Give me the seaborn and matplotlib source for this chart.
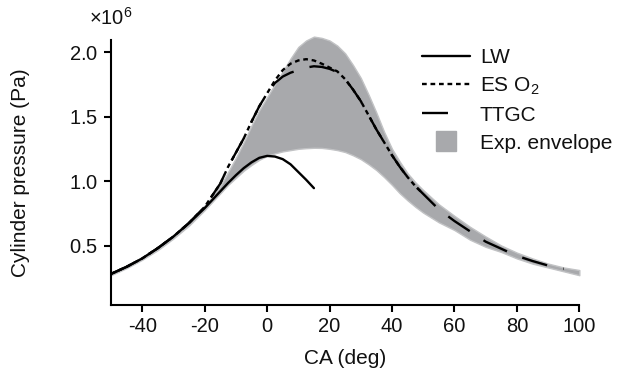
import numpy as np
import pandas as pd
import matplotlib
matplotlib.use("Agg")
import matplotlib.pyplot as plt
import seaborn as sns
from matplotlib.lines import Line2D
from matplotlib.ticker import ScalarFormatter

# Crank angle grid (deg)
ca = [-50, -45, -40, -35, -30, -25, -20,
      -17.5, -15, -12.5, -10, -7.5, -5, -2.5, 0,
      2.5, 5, 7.5, 10, 12.5, 15, 17.5, 20, 22.5, 25,
      27.5, 30, 32.5, 35, 37.5, 40, 42.5, 45, 47.5, 50,
      55, 60, 65, 70, 75, 80, 85, 90, 95, 100]

# Experimental envelope (x1e6 Pa)
env_lo = [0.27, 0.325, 0.39, 0.465, 0.555, 0.655, 0.775,
          0.84, 0.905, 0.97, 1.025, 1.08, 1.125, 1.165, 1.195,
          1.215, 1.23, 1.24, 1.25, 1.255, 1.258, 1.257, 1.25, 1.24, 1.225,
          1.20, 1.17, 1.13, 1.085, 1.03, 0.97, 0.905, 0.85, 0.80, 0.755,
          0.68, 0.62, 0.545, 0.49, 0.45, 0.40, 0.36, 0.33, 0.30, 0.27]
env_hi = [0.29, 0.345, 0.41, 0.49, 0.58, 0.69, 0.81,
          0.88, 0.96, 1.07, 1.18, 1.30, 1.43, 1.55, 1.65,
          1.75, 1.85, 1.95, 2.04, 2.09, 2.12, 2.11, 2.09, 2.05, 1.99,
          1.90, 1.80, 1.67, 1.53, 1.38, 1.25, 1.15, 1.06, 0.99, 0.93,
          0.82, 0.73, 0.645, 0.57, 0.50, 0.445, 0.40, 0.36, 0.33, 0.31]

# Simulations (x1e6 Pa)
ca_lw = [-50, -45, -40, -35, -30, -25, -20,
         -17.5, -15, -12.5, -10, -7.5, -5, -2.5, 0,
         2.5, 5, 7.5, 10, 12.5, 15]
p_lw = [0.28, 0.335, 0.40, 0.48, 0.57, 0.675, 0.79,
        0.855, 0.92, 0.985, 1.045, 1.10, 1.145, 1.18, 1.195,
        1.19, 1.17, 1.13, 1.07, 1.01, 0.945]

ca_es = [-50, -45, -40, -35, -30, -25, -20,
         -17.5, -15, -12.5, -10, -7.5, -5, -2.5, 0,
         2.5, 5, 7.5, 10, 12.5, 15, 17.5, 20, 22.5, 25,
         27.5, 30, 32.5, 35, 37.5, 40, 42.5, 45, 47.5, 50]
p_es = [0.28, 0.335, 0.40, 0.48, 0.57, 0.675, 0.80,
        0.89, 0.98, 1.11, 1.22, 1.33, 1.46, 1.58, 1.68,
        1.78, 1.86, 1.91, 1.935, 1.945, 1.935, 1.91, 1.88, 1.85, 1.79,
        1.71, 1.62, 1.51, 1.40, 1.30, 1.20, 1.11, 1.03, 0.96, 0.90]

ca_ttgc = [-50, -45, -40, -35, -30, -25, -20,
           -17.5, -15, -12.5, -10, -7.5, -5, -2.5, 0,
           2.5, 5, 7.5, 10, 12.5, 15, 17.5, 20, 22.5, 25,
           27.5, 30, 32.5, 35, 37.5, 40, 42.5, 45, 47.5, 50,
           55, 60, 65, 70, 75, 80, 85, 90, 95]
p_ttgc = [0.28, 0.335, 0.40, 0.48, 0.57, 0.675, 0.80,
          0.89, 0.98, 1.11, 1.22, 1.33, 1.46, 1.58, 1.68,
          1.76, 1.81, 1.84, 1.86, 1.88, 1.89, 1.885, 1.87, 1.845, 1.79,
          1.71, 1.62, 1.51, 1.40, 1.30, 1.20, 1.11, 1.03, 0.96, 0.90,
          0.78, 0.69, 0.61, 0.53, 0.475, 0.42, 0.38, 0.345, 0.32]

labels = ["LW", "ES O$_2$", "TTGC"]

df = pd.concat([
    pd.DataFrame({"CA": ca_lw, "p": np.array(p_lw) * 1e6, "case": labels[0]}),
    pd.DataFrame({"CA": ca_es, "p": np.array(p_es) * 1e6, "case": labels[1]}),
    pd.DataFrame({"CA": ca_ttgc, "p": np.array(p_ttgc) * 1e6, "case": labels[2]}),
])

sns.set_style("ticks")
plt.rcParams["font.family"] = ["Liberation Sans", "DejaVu Sans"]
plt.rcParams["axes.unicode_minus"] = False
plt.rcParams["text.color"] = "#111111"
plt.rcParams["axes.labelcolor"] = "#111111"
plt.rcParams["xtick.labelcolor"] = "#111111"
plt.rcParams["ytick.labelcolor"] = "#111111"
plt.rcParams["mathtext.fontset"] = "custom"
plt.rcParams["mathtext.rm"] = "Liberation Sans"
plt.rcParams["mathtext.it"] = "Liberation Sans:italic"

fig = plt.figure(figsize=(6.27, 3.83), dpi=100)
ax = fig.add_axes([0.177, 0.204, 0.747, 0.692])

env_col = "#a8a9ac"
ax.fill_between(ca, np.array(env_lo) * 1e6, np.array(env_hi) * 1e6,
                color=env_col, edgecolor="#c2c3c5", linewidth=1.0,
                clip_on=False, zorder=1)

dashes = {labels[0]: "", labels[1]: (2.0, 1.6), labels[2]: (11, 7)}
sns.lineplot(data=df, x="CA", y="p", hue="case", style="case",
             palette={l: "black" for l in labels}, dashes=dashes,
             linewidth=1.7, legend=False, ax=ax, zorder=3, sort=False)

ax.set_xlim(-50, 100)
ax.set_ylim(0.04e6, 2.095e6)
ax.set_xticks([-40, -20, 0, 20, 40, 60, 80, 100])
ax.set_yticks([0.5e6, 1.0e6, 1.5e6, 2.0e6])
fmt = ScalarFormatter(useMathText=True)
fmt.set_powerlimits((6, 6))
ax.yaxis.set_major_formatter(fmt)
ax.yaxis.get_offset_text().set_visible(False)
ax.text(-0.047, 1.055, r"$\times$10$^6$", transform=ax.transAxes,
        fontsize=14.5, ha="left", va="baseline")

ax.set_xlabel("CA (deg)", fontsize=15)
ax.set_ylabel("Cylinder pressure (Pa)", fontsize=15)
ax.xaxis.set_label_coords(0.5, -0.165)
ax.yaxis.set_label_coords(-0.173, 0.5)
ax.tick_params(axis="both", length=5, width=1.5, labelsize=14.5,
               color="black", pad=4)
sns.despine(ax=ax)
for s in ["left", "bottom"]:
    ax.spines[s].set_linewidth(1.5)
    ax.spines[s].set_color("black")

handles = [
    Line2D([], [], color="black", linewidth=1.7),
    Line2D([], [], color="black", linewidth=1.7, dashes=dashes[labels[1]]),
    Line2D([], [], color="black", linewidth=1.7, dashes=(11, 14)),
    Line2D([], [], color=env_col, marker="s", markersize=14, linestyle="none"),
]
ax.legend(handles, labels + ["Exp. envelope"], loc="upper left",
          bbox_to_anchor=(0.625, 1.04), frameon=False, fontsize=15,
          handlelength=2.3, labelspacing=0.42, handletextpad=0.45)

fig.savefig("out.png", dpi=100)
